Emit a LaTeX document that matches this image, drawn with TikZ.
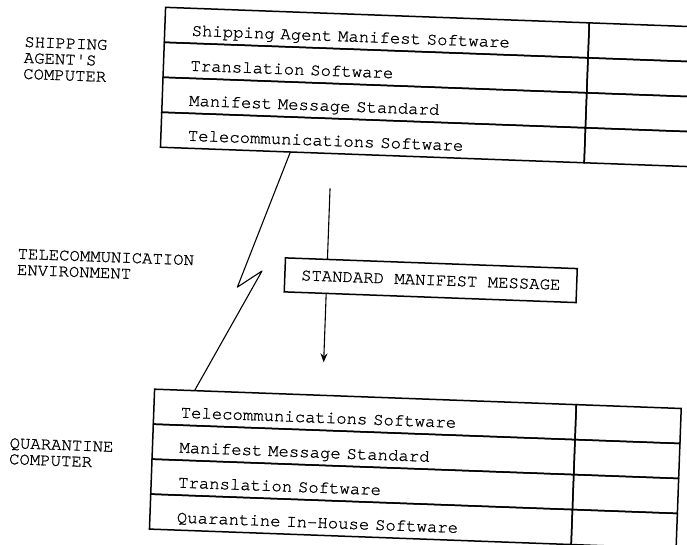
\documentclass[tikz,border=0pt]{standalone}
\usepackage{fontspec}
\newfontfamily\tw[FakeBold=1]{texgyrecursor-regular.otf}
\usetikzlibrary{arrows.meta}
\begin{document}
\begin{tikzpicture}[x=1pt,y=-1pt,
  typew/.style={font=\tw\fontsize{17.3}{16}\selectfont},
  cell/.style={draw, line width=1.5pt, rectangle, inner sep=0pt, minimum height=35pt},
  txtcell/.style={cell, typew, text width=#1, inner xsep=27pt, align=left,
                  text height=22pt, text depth=2pt},
  sidelabel/.style={typew, anchor=north west, align=left, inner sep=0pt},
  msgbox/.style={draw, line width=1.5pt, fill=white, typew, inner sep=0pt,
                 minimum width=292pt, minimum height=34pt},
  flow/.style={line width=1.1pt, -{Stealth[length=9pt,width=7pt]}},
  bolt/.style={line width=1.1pt, line join=round}
]
\useasboundingbox (0,0) rectangle (687,544);
\clip (0,0) rectangle (687,544);
\begin{scope}[rotate around={-2.1:(343,272)}, transform shape]
  % side labels
  \node[sidelabel] (ship) at (16,48.5) {SHIPPING\\AGENT'S\\COMPUTER};
  \node[sidelabel] (tele) at (17,260.5) {TELECOMMUNICATION\\ENVIRONMENT};
  \node[sidelabel] (quar) at (16,450) {QUARANTINE\\COMPUTER};

  % shipping agent's computer stack
  \node[txtcell=370pt] (tl1) at (368,31.5)  {Shipping Agent Manifest Software};
  \node[txtcell=370pt] (tl2) at (368,66.5)  {Translation Software};
  \node[txtcell=370pt] (tl3) at (368,101.5) {Manifest Message Standard};
  \node[txtcell=370pt] (tl4) at (368,136.5) {Telecommunications Software};
  \node[cell, minimum width=150pt] (tr1) at (655,31.5) {};
  \node[cell, minimum width=150pt] (tr2) at (655,66.5) {};
  \node[cell, minimum width=150pt] (tr3) at (655,101.5) {};
  \node[cell, minimum width=150pt] (tr4) at (655,136.5) {};

  % quarantine computer stack
  \node[txtcell=368pt] (bl1) at (370,413.5) {Telecommunications Software};
  \node[txtcell=368pt] (bl2) at (370,448.5) {Manifest Message Standard};
  \node[txtcell=368pt] (bl3) at (370,483.5) {Translation Software};
  \node[txtcell=368pt] (bl4) at (370,518.5) {Quarantine In-House Software};
  \node[cell, minimum width=105pt] (br1) at (633.5,413.5) {};
  \node[cell, minimum width=105pt] (br2) at (633.5,448.5) {};
  \node[cell, minimum width=105pt] (br3) at (633.5,483.5) {};
  \node[cell, minimum width=105pt] (br4) at (633.5,518.5) {};

  % telecommunication link (lightning)
  \coordinate (la) at (286,154);
  \coordinate (lb) at (238,291);
  \coordinate (lc) at (262,274);
  \coordinate (ld) at (199,396);
  \draw[bolt] (la) -- (lb) -- (lc) -- (ld);

  % message flow
  \coordinate (src) at (327,189);
  \coordinate (tip) at (327,363);
  \draw[flow] (src) -- (tip);
  \node[msgbox] (msg) at (431,277) {STANDARD MANIFEST MESSAGE};
\end{scope}
\end{tikzpicture}
\end{document}
